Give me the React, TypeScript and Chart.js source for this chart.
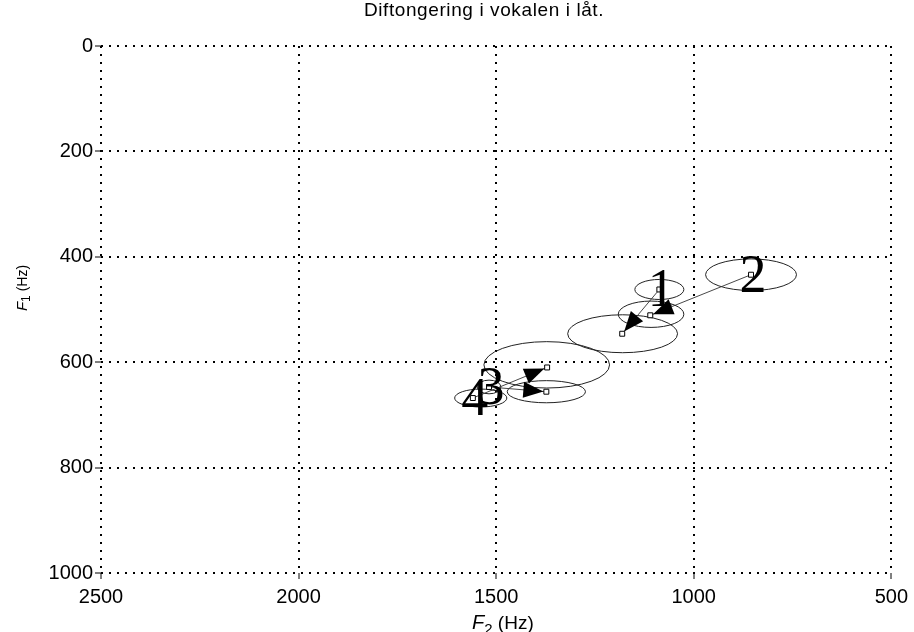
import React, { useEffect, useRef } from "react";
import { Chart, registerables } from "chart.js";

Chart.register(...registerables);

// ---- data (F2 in Hz on x, F1 in Hz on y) ----
const chartTitle = "Diftongering i vokalen i låt.";
const xTickValues = [2500, 2000, 1500, 1000, 500];
const yTickValues = [0, 200, 400, 600, 800, 1000];

const pointLabels = ["1", "2", "3", "4"];
const startF2 = [1087, 855, 1518, 1559];
const startF1 = [462, 434, 647, 668];
const endF2 = [1181, 1110, 1373, 1371];
const endF1 = [546, 511, 656, 610];

// dispersion ellipses (centre F2, centre F1, half-width Hz, half-height Hz)
const ellipseF2 = [1087, 855, 1518, 1539, 1180, 1108, 1373, 1372];
const ellipseF1 = [462, 434, 647, 668, 546, 509, 656, 605];
const ellipseRx = [62, 115, 30, 66, 139, 83, 99, 159];
const ellipseRy = [19, 30, 13, 17, 36, 25, 21, 44];

const SANS = '"Liberation Sans", Arial, sans-serif';
const SERIF = '"Liberation Serif", "Times New Roman", serif';

export default function App() {
  const ref = useRef<HTMLCanvasElement>(null);

  useEffect(() => {
    const canvas = ref.current;
    if (!canvas) return;

    const overlay = {
      id: "overlay",
      beforeDatasetsDraw(chart: any) {
        const xs = chart.scales.x;
        const ys = chart.scales.y;
        const c = chart.ctx as CanvasRenderingContext2D;
        c.save();
        c.strokeStyle = "#222";
        c.lineWidth = 1;
        for (let i = 0; i < ellipseF2.length; i++) {
          const cx = xs.getPixelForValue(ellipseF2[i]);
          const cy = ys.getPixelForValue(ellipseF1[i]);
          const rx = Math.abs(xs.getPixelForValue(ellipseF2[i] + ellipseRx[i]) - cx);
          const ry = Math.abs(ys.getPixelForValue(ellipseF1[i] + ellipseRy[i]) - cy);
          c.beginPath();
          c.ellipse(cx, cy, rx, ry, 0, 0, Math.PI * 2);
          c.stroke();
        }
        for (let i = 0; i < startF2.length; i++) {
          const x0 = xs.getPixelForValue(startF2[i]);
          const y0 = ys.getPixelForValue(startF1[i]);
          const x1 = xs.getPixelForValue(endF2[i]);
          const y1 = ys.getPixelForValue(endF1[i]);
          c.strokeStyle = "#333";
          c.lineWidth = 0.9;
          c.beginPath();
          c.moveTo(x0, y0);
          c.lineTo(x1, y1);
          c.stroke();
          const ang = Math.atan2(y1 - y0, x1 - x0);
          const tipX = x1 - Math.cos(ang) * 3;
          const tipY = y1 - Math.sin(ang) * 3;
          const L = 20;
          const W = 8;
          const bx = tipX - Math.cos(ang) * L;
          const by = tipY - Math.sin(ang) * L;
          c.beginPath();
          c.moveTo(tipX, tipY);
          c.lineTo(bx + Math.sin(ang) * W, by - Math.cos(ang) * W);
          c.lineTo(bx - Math.sin(ang) * W, by + Math.cos(ang) * W);
          c.closePath();
          c.fillStyle = "#000";
          c.fill();
        }
        c.restore();
      },
      afterDatasetsDraw(chart: any) {
        const xs = chart.scales.x;
        const ys = chart.scales.y;
        const c = chart.ctx as CanvasRenderingContext2D;
        c.save();
        c.fillStyle = "#000";
        c.font = `54px ${SERIF}`;
        c.textAlign = "center";
        c.textBaseline = "alphabetic";
        for (let i = 0; i < pointLabels.length; i++) {
          const px = xs.getPixelForValue(startF2[i]);
          const py = ys.getPixelForValue(startF1[i]);
          c.fillText(pointLabels[i], px + 2, py + 17);
        }
        c.restore();
      },
      afterDraw(chart: any) {
        const c = chart.ctx as CanvasRenderingContext2D;
        c.save();
        c.fillStyle = "#000";
        // title
        c.font = `19px ${SANS}`;
        (c as any).letterSpacing = "0.6px";
        c.textAlign = "center";
        c.textBaseline = "middle";
        c.fillText(chartTitle, 484, 11);
        (c as any).letterSpacing = "0px";
        // x axis title: F2 (Hz)
        c.textAlign = "left";
        c.textBaseline = "alphabetic";
        c.font = `italic 20px ${SANS}`;
        c.fillText("F", 472, 629);
        const wF = c.measureText("F").width;
        c.font = `15px ${SANS}`;
        c.fillText("2", 472 + wF, 634);
        const w2 = c.measureText("2").width;
        c.font = `19px ${SANS}`;
        c.fillText(" (Hz)", 472 + wF + w2, 629);
        // y axis title: F1 (Hz)
        c.translate(22, 288);
        c.rotate(-Math.PI / 2);
        c.font = `italic 15px ${SANS}`;
        const a = c.measureText("F").width;
        c.font = `12px ${SANS}`;
        const b = c.measureText("1").width;
        c.font = `14px ${SANS}`;
        const d = c.measureText(" (Hz)").width;
        let x = -(a + b + d) / 2;
        c.font = `italic 15px ${SANS}`;
        c.fillText("F", x, 5);
        x += a;
        c.font = `12px ${SANS}`;
        c.fillText("1", x, 8);
        x += b;
        c.font = `14px ${SANS}`;
        c.fillText(" (Hz)", x, 5);
        c.restore();
      },
    };

    const markerData = [
      ...startF2.map((v, i) => ({ x: v, y: startF1[i] })),
      ...endF2.map((v, i) => ({ x: v, y: endF1[i] })),
    ];

    const tickFont = { family: SANS, size: 20 };

    const chart = new Chart(canvas, {
      type: "scatter",
      data: {
        datasets: [
          {
            data: markerData,
            pointStyle: "rect",
            pointRadius: 3.5,
            backgroundColor: "#fff",
            borderColor: "#000",
            borderWidth: 1,
          },
        ],
      },
      options: {
        responsive: false,
        animation: false,
        events: [],
        layout: { padding: { top: 46, right: 21, left: 0, bottom: 0 } },
        plugins: {
          legend: { display: false },
          tooltip: { enabled: false },
          title: { display: false },
        },
        scales: {
          x: {
            type: "linear",
            reverse: true,
            min: 500,
            max: 2500,
            afterBuildTicks: (s: any) => {
              s.ticks = xTickValues.map((v) => ({ value: v }));
            },
            afterFit: (s: any) => {
              s.height = 59;
            },
            grid: {
              color: "#000",
              lineWidth: 2,
              drawTicks: true,
              tickLength: 6,
              tickColor: "#000",
              tickWidth: 1,
              tickBorderDash: [],
            },
            border: { display: false, dash: [2, 6] },
            ticks: {
              color: "#000",
              font: tickFont,
              padding: 6,
              maxRotation: 0,
              autoSkip: false,
              callback: (v: any) => String(v),
            },
          },
          y: {
            type: "linear",
            reverse: true,
            min: 0,
            max: 1000,
            afterBuildTicks: (s: any) => {
              s.ticks = yTickValues.map((v) => ({ value: v }));
            },
            afterFit: (s: any) => {
              s.width = 101;
            },
            grid: {
              color: "#000",
              lineWidth: 2,
              drawTicks: true,
              tickLength: 6,
              tickColor: "#000",
              tickWidth: 1,
              tickBorderDash: [],
            },
            border: { display: false, dash: [2, 6] },
            ticks: {
              color: "#000",
              font: tickFont,
              padding: 2,
              autoSkip: false,
              callback: (v: any) => String(v),
            },
          },
        },
      },
      plugins: [overlay],
    } as any);

    return () => chart.destroy();
  }, []);

  return (
    <div style={{ position: "absolute", left: 0, top: 0, width: 914, height: 632, background: "#fff" }}>
      <canvas ref={ref} width={914} height={632} style={{ display: "block" }} />
    </div>
  );
}
